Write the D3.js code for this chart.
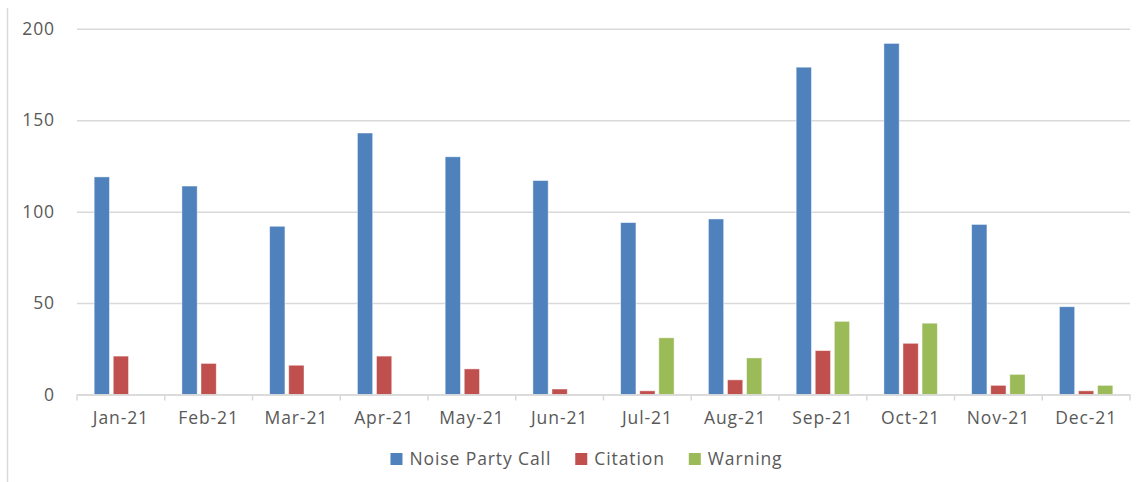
<!DOCTYPE html>
<html>
<head>
<meta charset="utf-8">
<script src="https://cdn.jsdelivr.net/npm/d3@7"></script>
<style>
  html, body { margin: 0; padding: 0; background: #fff; }
  svg { display: block; }
  text { font-family: "Open Sans", "Noto Sans", sans-serif; fill: #595959; }
</style>
</head>
<body>
<svg id="chart" width="1146" height="482"></svg>
<script>
// Monthly counts, 2021
const months = ["Jan-21", "Feb-21", "Mar-21", "Apr-21", "May-21", "Jun-21",
                "Jul-21", "Aug-21", "Sep-21", "Oct-21", "Nov-21", "Dec-21"];
const seriesNames = ["Noise Party Call", "Citation", "Warning"];
const noisePartyCalls = [119, 114, 92, 143, 130, 117, 94, 96, 179, 192, 93, 48];
const citations       = [21, 17, 16, 21, 14, 3, 2, 8, 24, 28, 5, 2];
const warnings        = [0, 0, 0, 0, 0, 0, 31, 20, 40, 39, 11, 5];
const yTicks = [0, 50, 100, 150, 200];
const colors = ["#4f81bd", "#c0504d", "#9bbb59"];

const seriesValues = [noisePartyCalls, citations, warnings];
const rows = months.map((m, i) => ({
  month: m,
  values: seriesNames.map((s, k) => ({ series: s, value: seriesValues[k][i] }))
}));

const FONT_SIZE = "17.5px";
const LETTER_SPACING = "0.9px";

const svg = d3.select("#chart");
const plot = { left: 77, right: 1130, top: 28.8, bottom: 394.5 };

// Outer frame edge on the left
svg.append("line")
  .attr("x1", 7.5).attr("x2", 7.5).attr("y1", 8).attr("y2", 482)
  .attr("stroke", "#d9d9d9").attr("stroke-width", 1.5);

const x0 = d3.scaleBand().domain(months).range([plot.left, plot.right]).padding(0);
const x1 = d3.scaleBand().domain(seriesNames).range([0, x0.bandwidth()])
  .paddingInner(0.2).paddingOuter(0.9);
const y = d3.scaleLinear().domain([0, 200]).range([plot.bottom, plot.top]);
const color = d3.scaleOrdinal().domain(seriesNames).range(colors);

// Horizontal gridlines and value labels
const yAxis = d3.axisLeft(y).tickValues(yTicks)
  .tickSize(-(plot.right - plot.left)).tickPadding(22);
const gy = svg.append("g").attr("transform", `translate(${plot.left},0)`).call(yAxis);
gy.select(".domain").remove();
gy.selectAll(".tick line").attr("stroke", "#d9d9d9").attr("stroke-width", 1.5);
gy.selectAll(".tick text")
  .style("font-size", FONT_SIZE).style("letter-spacing", LETTER_SPACING)
  .attr("fill", "#595959");

// Bars
const groups = svg.append("g").selectAll("g")
  .data(rows).join("g")
  .attr("transform", d => `translate(${x0(d.month)},0)`);
groups.selectAll("rect")
  .data(d => d.values.filter(v => v.value > 0)).join("rect")
  .attr("x", d => x1(d.series))
  .attr("width", x1.bandwidth())
  .attr("y", d => y(d.value))
  .attr("height", d => y(0) - y(d.value))
  .attr("fill", d => color(d.series))
  .attr("stroke", "rgba(255,255,255,0.55)")
  .attr("stroke-width", 0.8);

// Category axis
const xAxis = d3.axisBottom(x0).tickSize(0).tickPadding(17);
const gx = svg.append("g").attr("transform", `translate(0,${plot.bottom})`).call(xAxis);
gx.select(".domain").attr("stroke", "#d9d9d9").attr("stroke-width", 1.5);
gx.selectAll(".tick text")
  .style("font-size", FONT_SIZE).style("letter-spacing", LETTER_SPACING)
  .attr("fill", "#595959");
// Tick marks on the category boundaries
gx.selectAll("line.sep")
  .data(months.concat(["end"])).join("line")
  .attr("class", "sep")
  .attr("x1", (d, i) => i < months.length ? x0(d) : plot.right)
  .attr("x2", (d, i) => i < months.length ? x0(d) : plot.right)
  .attr("y1", 0).attr("y2", 6)
  .attr("stroke", "#d9d9d9").attr("stroke-width", 1.5);

// Legend, centred under the chart
const legend = svg.append("g").attr("transform", "translate(0,459)");
const items = legend.selectAll("g").data(seriesNames).join("g");
items.append("rect")
  .attr("width", 12).attr("height", 12).attr("y", -6)
  .attr("fill", d => color(d));
items.append("text")
  .attr("x", 19).attr("dy", "0.35em")
  .style("font-size", FONT_SIZE).style("letter-spacing", LETTER_SPACING)
  .text(d => d);
const gap = 24;
const widths = [];
items.each(function () { widths.push(this.getBBox().width); });
const total = d3.sum(widths) + gap * (widths.length - 1);
let acc = 586.5 - total / 2;
items.attr("transform", (d, i) => {
  const t = `translate(${acc},0)`;
  acc += widths[i] + gap;
  return t;
});
</script>
</body>
</html>
